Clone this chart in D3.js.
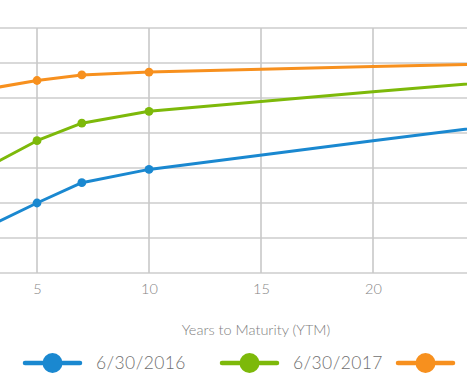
<!DOCTYPE html>
<html>
<head>
<meta charset="utf-8">
<script src="https://cdn.jsdelivr.net/npm/d3@7"></script>
<style>
  html, body { margin: 0; padding: 0; background: #fff; }
  svg { display: block; font-family: Lato, "Open Sans", sans-serif; font-weight: 300; }
</style>
</head>
<body>
<svg id="chart" width="467" height="390"></svg>
<script>
// ---- data ----
const years = [3, 5, 7, 10, 20, 30];
const markerYears = [3, 5, 7, 10];
const series2016 = [0.69, 1.00, 1.29, 1.48, 1.89, 2.29];
const series2017 = [1.55, 1.89, 2.14, 2.31, 2.59, 2.85];
const series2018 = [2.64, 2.75, 2.83, 2.87, 2.95, 3.02];
const seriesNames = ["6/30/2016", "6/30/2017", "6/30/2018"];
const seriesColors = ["#1a88d0", "#7db90a", "#f7901e"];
const xTicks = [5, 10, 15, 20];
const yTicks = [0, 0.5, 1, 1.5, 2, 2.5, 3, 3.5];
const xGrid = [5, 10, 15, 20, 25];
const axisTitle = "Years to Maturity (YTM)";

const allSeries = [series2016, series2017, series2018];

const svg = d3.select("#chart");
const W = 467;

const x = d3.scaleLinear().domain([5, 20]).range([37, 373]);
const y = d3.scaleLinear().domain([0, 3.5]).range([273, 28]);

svg.append("defs").append("clipPath").attr("id", "clip")
  .append("rect").attr("x", 0).attr("y", 0).attr("width", W).attr("height", 300);

const grid = svg.append("g").attr("clip-path", "url(#clip)");
grid.selectAll("line.h").data(yTicks).enter().append("line")
  .attr("class", "h")
  .attr("x1", 0).attr("x2", W)
  .attr("y1", d => y(d)).attr("y2", d => y(d))
  .attr("stroke", "#cccccc").attr("stroke-width", 1.6);
grid.selectAll("line.v").data(xGrid).enter().append("line")
  .attr("class", "v")
  .attr("x1", d => x(d)).attr("x2", d => x(d))
  .attr("y1", y(3.5)).attr("y2", y(0))
  .attr("stroke", "#c8c8c8").attr("stroke-width", 1.6);

const xAxis = d3.axisBottom(x).tickValues(xTicks).tickSize(0).tickPadding(11)
  .tickFormat(d3.format("d"));
const gx = svg.append("g").attr("transform", `translate(0,${y(0)})`).call(xAxis);
gx.select(".domain").remove();
gx.selectAll("text")
  .attr("fill", "#858585")
  .style("font-size", "14.5px")
  .style("font-weight", "300")
  .style("font-family", "Lato, 'Open Sans', sans-serif");

svg.append("text")
  .attr("x", 256).attr("y", 335)
  .attr("text-anchor", "middle")
  .attr("fill", "#808080")
  .style("font-size", "14.5px")
  .text(axisTitle);

const plot = svg.append("g").attr("clip-path", "url(#clip)");
const line = d3.line().x((d, i) => x(years[i])).y(d => y(d));
allSeries.forEach((s, k) => {
  plot.append("path")
    .datum(s)
    .attr("d", line)
    .attr("fill", "none")
    .attr("stroke", seriesColors[k])
    .attr("stroke-width", 3)
    .attr("stroke-linejoin", "round");
});
allSeries.forEach((s, k) => {
  const pts = years.map((yr, i) => ({ yr, v: s[i] })).filter(p => markerYears.includes(p.yr));
  plot.selectAll(null).data(pts).enter().append("circle")
    .attr("cx", d => x(d.yr)).attr("cy", d => y(d.v))
    .attr("r", 4.4)
    .attr("fill", seriesColors[k]);
});

// legend (the third label falls beyond the right edge, as in the reference)
const legendX = [25, 222, 398];
const leg = svg.append("g");
seriesNames.forEach((name, k) => {
  const g = leg.append("g").attr("transform", `translate(${legendX[k]},363)`);
  g.append("line").attr("x1", 0).attr("x2", 55).attr("y1", 0).attr("y2", 0)
    .attr("stroke", seriesColors[k]).attr("stroke-width", 4.5).attr("stroke-linecap", "round");
  g.append("circle").attr("cx", 27.5).attr("cy", 0).attr("r", 10).attr("fill", seriesColors[k]);
  if (legendX[k] + 71 < W) {
    g.append("text").attr("x", 71).attr("y", 6.3)
      .attr("fill", "#707070")
      .style("font-size", "17.5px")
      .style("letter-spacing", "0.4px")
      .text(name);
  }
});
</script>
</body>
</html>
